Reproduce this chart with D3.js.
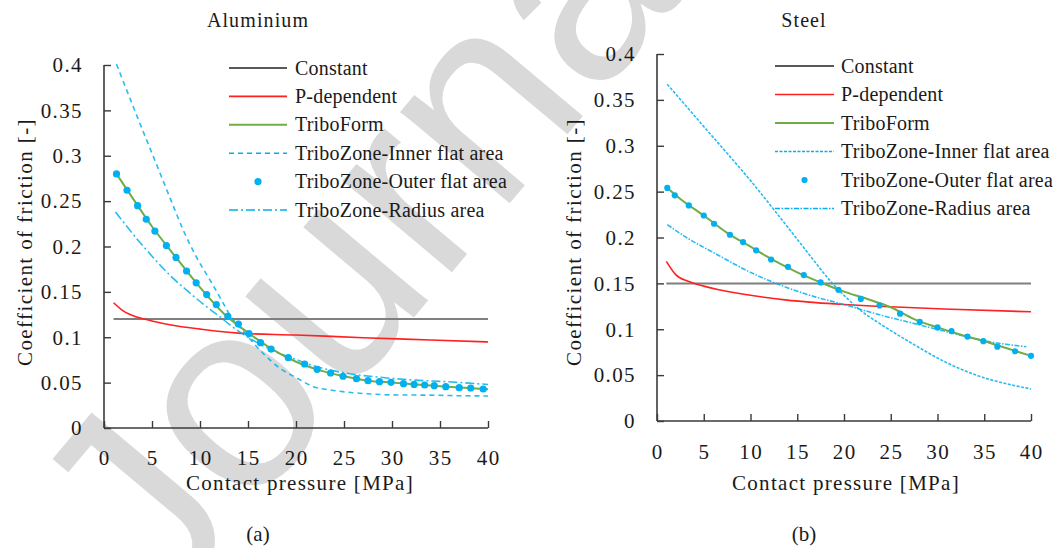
<!DOCTYPE html>
<html>
<head>
<meta charset="utf-8">
<script src="https://cdn.jsdelivr.net/npm/d3@7"></script>
<style>
  html, body { margin: 0; padding: 0; background: #fff; }
  svg { display: block; }
</style>
</head>
<body>
<svg id="chart" width="1063" height="548"></svg>
<script>
// ---------------- DATA ----------------
const yTicks = [0, 0.05, 0.1, 0.15, 0.2, 0.25, 0.3, 0.35, 0.4];
const yTickLabels = ["0", "0.05", "0.1", "0.15", "0.2", "0.25", "0.3", "0.35", "0.4"];
const xTicks = [0, 5, 10, 15, 20, 25, 30, 35, 40];
const legendLabels = ["Constant", "P-dependent", "TriboForm", "TriboZone-Inner flat area", "TriboZone-Outer flat area", "TriboZone-Radius area"];
const panelTitles = ["Aluminium", "Steel"];
const panelCaptions = ["(a)", "(b)"];
const xAxisTitle = "Contact pressure [MPa]";
const yAxisTitle = "Coefficient of friction [-]";
const watermarkText = "Journal Pre-proof";

// Aluminium (a)
const alConstP = [1, 40];
const alConstV = [0.12, 0.12];
const alPdepP = [1, 2, 3.5, 5, 7, 10, 14, 20, 27, 34, 40];
const alPdepV = [0.138, 0.129, 0.122, 0.118, 0.1135, 0.109, 0.1045, 0.1025, 0.0995, 0.097, 0.0948];
const alFormP = [1.3, 2.5, 5, 7.5, 10, 12.5, 15, 17.5, 20, 22.5, 25, 27.5, 30, 32.5, 35, 37.5, 40];
const alFormV = [0.280, 0.261, 0.222, 0.188, 0.155, 0.126, 0.105, 0.087, 0.073, 0.0635, 0.057, 0.052, 0.050, 0.048, 0.046, 0.0443, 0.0428];
const alInnerP = [1.3, 3.5, 5.2, 6.9, 8.3, 9.7, 11.1, 12.5, 13.2, 14, 15.2, 16.6, 18.3, 20.1, 21.8, 23.5, 27, 30.5, 34, 37.4, 40];
const alInnerV = [0.401, 0.342, 0.2975, 0.253, 0.217, 0.187, 0.162, 0.136, 0.123, 0.113, 0.098, 0.082, 0.066, 0.055, 0.0455, 0.042, 0.038, 0.0364, 0.0362, 0.0355, 0.0353];
const alOuterP = [1.3, 2.4, 3.5, 4.4, 5.3, 6.5, 7.5, 8.6, 9.6, 10.7, 11.7, 12.9, 14.0, 15.1, 16.3, 17.4, 19.2, 20.9, 22.2, 23.6, 24.9, 26.3, 27.5, 28.7, 29.9, 31.2, 32.3, 33.4, 34.4, 35.6, 37.0, 38.2, 39.5];
const alOuterV = [0.280, 0.262, 0.245, 0.230, 0.217, 0.201, 0.188, 0.173, 0.160, 0.147, 0.136, 0.123, 0.1145, 0.104, 0.094, 0.087, 0.0775, 0.0705, 0.0647, 0.0606, 0.057, 0.0543, 0.0521, 0.051, 0.0503, 0.0488, 0.048, 0.0474, 0.0466, 0.0455, 0.0444, 0.0441, 0.043];
const alRadiusP = [1.2, 3.5, 5.2, 6.9, 8.7, 10.4, 12.2, 13.2, 15, 16.5, 18.3, 20, 21.8, 25.3, 28.75, 32.2, 35.7, 40];
const alRadiusV = [0.238, 0.2075, 0.187, 0.168, 0.151, 0.136, 0.1215, 0.113, 0.100, 0.091, 0.082, 0.0755, 0.0686, 0.0603, 0.0559, 0.0529, 0.051, 0.048];

// Steel (b)
const stConstP = [1, 40];
const stConstV = [0.15, 0.15];
const stPdepP = [1, 2, 3.4, 5, 6.6, 10, 13.7, 17, 20, 23.7, 30.7, 40];
const stPdepV = [0.174, 0.1595, 0.152, 0.147, 0.143, 0.137, 0.132, 0.129, 0.127, 0.125, 0.122, 0.119];
const stFormP = [1.1, 2.5, 5, 7.5, 10, 12.5, 15, 17.5, 20, 22.5, 25, 27.5, 30, 32.5, 35, 37.5, 40];
const stFormV = [0.254, 0.242, 0.224, 0.205, 0.190, 0.175, 0.162, 0.151, 0.141, 0.133, 0.124, 0.111, 0.102, 0.094, 0.087, 0.079, 0.071];
const stInnerP = [1.1, 5, 10, 15, 17, 18.5, 20.2, 21.9, 23.7, 27.2, 30.7, 34.3, 37.8, 40];
const stInnerV = [0.367, 0.321, 0.262, 0.198, 0.172, 0.153, 0.135, 0.1195, 0.107, 0.085, 0.065, 0.0494, 0.0396, 0.035];
const stOuterP = [1.1, 1.9, 3.4, 5.0, 6.1, 7.8, 9.2, 10.6, 12.2, 14.0, 15.7, 17.5, 19.4, 21.8, 23.8, 26.0, 28.1, 30.0, 31.5, 33.2, 34.9, 36.4, 38.3, 40.0];
const stOuterV = [0.254, 0.246, 0.235, 0.224, 0.215, 0.203, 0.195, 0.186, 0.176, 0.168, 0.159, 0.151, 0.143, 0.133, 0.126, 0.117, 0.108, 0.102, 0.098, 0.092, 0.087, 0.081, 0.076, 0.071];
const stRadiusP = [1.1, 3, 6.5, 10, 13.5, 17, 20, 23.7, 27.2, 30.7, 34.3, 37.8, 39.5];
const stRadiusV = [0.214, 0.201, 0.181, 0.162, 0.147, 0.135, 0.127, 0.116, 0.107, 0.098, 0.089, 0.083, 0.081];

// ---------------- DRAW ----------------
const SERIF = "Liberation Serif";
const svg = d3.select("#chart");
const FS = 21;
const TXT = "#1a1a1a";

function addText(sel) {
  return sel.append("text").style("font-family", SERIF).attr("fill", TXT);
}

// watermark (behind everything)
svg.append("text")
  .attr("transform", "translate(160,620) rotate(-50)")
  .style("font-family", "Liberation Sans")
  .style("font-size", "270px")
  .attr("fill", "#d9d9d9")
  .text(watermarkText);

const panels = [
  { px: [104, 488], py: [428, 65], title: panelTitles[0], cap: panelCaptions[0],
    titleX: 258, xLabX: 300, yLabX: 25, tickBase: 465,
    legX: 229, legW: 58, legTX: 295, legY: 68, legStep: 28.4, dotR: 3.6,
    innerDash: "5,4", radiusDash: "9,3,2,3",
    constP: alConstP, constV: alConstV, pdepP: alPdepP, pdepV: alPdepV,
    formP: alFormP, formV: alFormV, innerP: alInnerP, innerV: alInnerV,
    outerP: alOuterP, outerV: alOuterV, radP: alRadiusP, radV: alRadiusV },
  { px: [657, 1031], py: [421, 54], title: panelTitles[1], cap: panelCaptions[1],
    titleX: 804, xLabX: 846, yLabX: 574, tickBase: 459,
    legX: 775, legW: 59, legTX: 841, legY: 66, legStep: 28.5, dotR: 3.1,
    innerDash: "3,1.5", radiusDash: "5,1.5,1.5,1.5",
    constP: stConstP, constV: stConstV, pdepP: stPdepP, pdepV: stPdepV,
    formP: stFormP, formV: stFormV, innerP: stInnerP, innerV: stInnerV,
    outerP: stOuterP, outerV: stOuterV, radP: stRadiusP, radV: stRadiusV }
];

const BLUE = "#00b0f0";

panels.forEach(p => {
  const x = d3.scaleLinear().domain([0, 40]).range(p.px);
  const y = d3.scaleLinear().domain([0, 0.4]).range(p.py);
  const g = svg.append("g");

  // axes
  const xAxis = d3.axisBottom(x).tickValues(xTicks).tickSize(-7).tickFormat("");
  const yAxis = d3.axisLeft(y).tickValues(yTicks).tickSize(-7).tickFormat("");
  const gx = g.append("g").attr("transform", `translate(0,${p.py[0]})`).call(xAxis);
  const gy = g.append("g").attr("transform", `translate(${p.px[0]},0)`).call(yAxis);
  [gx, gy].forEach(a => {
    a.select(".domain").attr("stroke", "#3a3a3a").attr("stroke-width", 1.6);
    a.selectAll(".tick line").attr("stroke", "#3a3a3a").attr("stroke-width", 1.4);
  });
  gx.select(".domain").attr("d", `M${p.px[0]},0H${p.px[1]}`);
  gy.select(".domain").attr("d", `M0,${p.py[0]}V${p.py[1]}`);

  // tick labels
  xTicks.forEach(d => {
    addText(g).attr("x", x(d) + 0.7).attr("y", p.tickBase)
      .attr("text-anchor", "middle")
      .style("font-size", FS + "px").style("letter-spacing", "1.4px")
      .text(d);
  });
  yTicks.forEach((d, i) => {
    addText(g).attr("x", p.px[0] - 21).attr("y", y(d)).attr("dy", "0.35em")
      .attr("text-anchor", "end")
      .style("font-size", FS + "px").style("letter-spacing", "1.4px")
      .text(yTickLabels[i]);
  });

  // titles
  addText(g).attr("x", p.titleX).attr("y", 27).attr("text-anchor", "middle")
    .style("font-size", "20px").style("letter-spacing", "1.1px").text(p.title);
  addText(g).attr("x", p.xLabX).attr("y", 490).attr("text-anchor", "middle")
    .style("font-size", FS + "px").style("letter-spacing", "1.3px").text(xAxisTitle);
  addText(g).attr("transform", `translate(${p.yLabX},242) rotate(-90)`)
    .attr("text-anchor", "middle").attr("dominant-baseline", "central")
    .style("font-size", FS + "px").style("letter-spacing", "1.4px").text(yAxisTitle);
  addText(g).attr("x", p.titleX).attr("y", 541).attr("text-anchor", "middle")
    .style("font-size", FS + "px").text(p.cap);

  const line = d3.line().x(d => x(d[0])).y(d => y(d[1])).curve(d3.curveMonotoneX);
  const zip = (a, b) => a.map((v, i) => [v, b[i]]);

  // series
  g.append("path").attr("d", line(zip(p.constP, p.constV)))
    .attr("fill", "none").attr("stroke", "#7f7f7f").attr("stroke-width", 2);
  g.append("path").attr("d", line(zip(p.pdepP, p.pdepV)))
    .attr("fill", "none").attr("stroke", "#ff2020").attr("stroke-width", 1.6);
  g.append("path").attr("d", line(zip(p.innerP, p.innerV)))
    .attr("fill", "none").attr("stroke", BLUE).attr("stroke-width", 1.6)
    .attr("stroke-dasharray", p.innerDash).attr("opacity", 0.85);
  g.append("path").attr("d", line(zip(p.radP, p.radV)))
    .attr("fill", "none").attr("stroke", BLUE).attr("stroke-width", 1.6)
    .attr("stroke-dasharray", p.radiusDash).attr("opacity", 0.85);
  g.append("path").attr("d", line(zip(p.formP, p.formV)))
    .attr("fill", "none").attr("stroke", "#70ad47").attr("stroke-width", 2);
  g.selectAll(".dot").data(zip(p.outerP, p.outerV)).enter().append("circle")
    .attr("cx", d => x(d[0])).attr("cy", d => y(d[1])).attr("r", p.dotR)
    .attr("fill", BLUE);

  // legend
  const styles = [
    { stroke: "#222", w: 1.6 },
    { stroke: "#ff2020", w: 1.6 },
    { stroke: "#70ad47", w: 2 },
    { stroke: BLUE, w: 1.6, dash: p.innerDash },
    { dot: true },
    { stroke: BLUE, w: 1.6, dash: p.radiusDash }
  ];
  legendLabels.forEach((lab, i) => {
    const ly = p.legY + i * p.legStep;
    const s = styles[i];
    if (s.dot) {
      g.append("circle").attr("cx", p.legX + p.legW / 2).attr("cy", ly).attr("r", p.dotR).attr("fill", BLUE);
    } else {
      g.append("line").attr("x1", p.legX).attr("x2", p.legX + p.legW).attr("y1", ly).attr("y2", ly)
        .attr("stroke", s.stroke).attr("stroke-width", s.w)
        .attr("stroke-dasharray", s.dash || null);
    }
    addText(g).attr("x", p.legTX).attr("y", ly).attr("dy", "0.33em")
      .style("font-size", "20px").style("letter-spacing", "0.2px").text(lab);
  });
});
</script>
</body>
</html>
